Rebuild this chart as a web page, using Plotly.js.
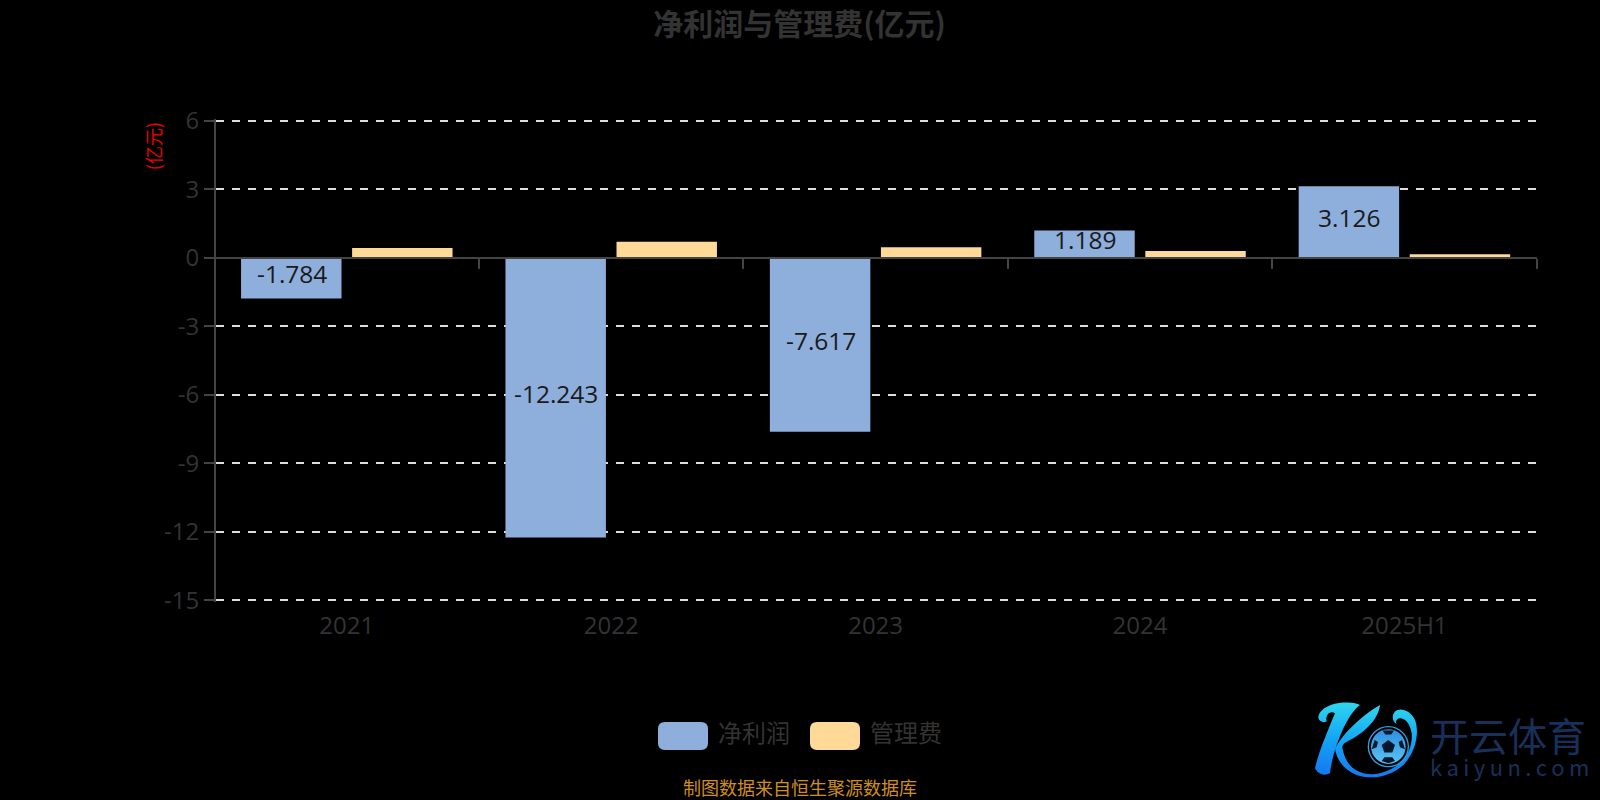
<!DOCTYPE html>
<html><head><meta charset="utf-8">
<script src="https://cdn.plot.ly/plotly-3.0.1.min.js"></script>
<style>html,body{margin:0;padding:0;background:#000;overflow:hidden}</style></head>
<body><div id="chart" style="width:1600px;height:800px"></div>
<script>
const categories = ['2021','2022','2023','2024','2025H1'];
const netProfit = [-1.784,-12.243,-7.617,1.189,3.126];
const adminFee = [0.42,0.70,0.46,0.29,0.145];
const netProfitLabels = ['-1.784','-12.243','-7.617','1.189','3.126'];
const seriesNames = ['净利润','管理费'];
const yTicks = [6,3,0,-3,-6,-9,-12,-15];
const W=1600,H=800,L=216,R=1537,T=118.8,B=602;
const px=x=>(x-L)/(R-L), py=y=>(B-y)/(B-T);
const latin='"Open Sans","Noto Sans CJK SC",sans-serif', cjk='"Noto Sans CJK SC",sans-serif';
function rr(x0,y0,x1,y1,r){
  const a=px(x0),b=px(x1),c=py(y0),d=py(y1),rx=r/(R-L),ry=r/(B-T);
  return `M${a+rx},${c} L${b-rx},${c} Q${b},${c} ${b},${c-ry} L${b},${d+ry} Q${b},${d} ${b-rx},${d} L${a+rx},${d} Q${a},${d} ${a},${d+ry} L${a},${c-ry} Q${a},${c} ${a+rx},${c} Z`;
}
const logo='data:image/svg+xml;utf8,'+encodeURIComponent(`<svg xmlns="http://www.w3.org/2000/svg" width="300" height="110" viewBox="0 0 900 330">
<defs><linearGradient id="g" x1="0" y1="0" x2="0" y2="1"><stop offset="0" stop-color="#2fd6ee"/><stop offset="0.5" stop-color="#14a5f5"/><stop offset="1" stop-color="#1478f0"/></linearGradient>
<linearGradient id="b" x1="0" y1="0" x2="0" y2="1"><stop offset="0" stop-color="#2c8fe0"/><stop offset="1" stop-color="#5cc4f5"/></linearGradient></defs>
<path fill="url(#g)" d="M55 80 C60 55 95 40 130 38 C150 36 170 38 180 45 C160 60 145 85 130 115 C110 160 95 205 90 250 C75 258 55 255 45 235 C55 190 80 130 105 70 C90 60 75 75 80 95 C65 100 55 92 55 80Z"/>
<path fill="url(#g)" d="M240 45 C235 90 190 130 150 150 C130 160 125 165 128 178 C140 240 190 262 240 250 C300 235 340 190 335 130 C330 100 315 85 300 85 C290 85 285 95 290 103 C280 98 272 80 285 65 C300 52 330 60 345 90 C360 130 345 190 310 225 C270 262 210 270 170 255 C130 240 108 205 105 175 C130 130 180 80 240 45Z"/>
<circle cx="265" cy="170" r="60" fill="#000" stroke="#2aa0e8" stroke-width="4"/>
<circle cx="265" cy="170" r="52" fill="url(#b)"/>
<path fill="#04182c" d="M265 150 L285 165 L277 188 L253 188 L245 165Z M248 122 L282 122 L274 134 L256 134Z M306 150 L315 178 L300 172 L296 156Z M224 150 L234 156 L230 172 L215 178Z M245 213 L253 202 L277 202 L285 213 L265 220Z"/>
</svg>`);
const bars=(name,y,color)=>({type:'bar',name,x:categories,y,
  marker:{color,line:{width:0}},showlegend:false,hoverinfo:'x+y',textposition:'none'});
const data=[bars(seriesNames[0],netProfit,'#8eaedb'),bars(seriesNames[1],adminFee,'#ffd998')];
const note=(text,x,y,size,color,extra)=>Object.assign({text,xref:'paper',yref:'paper',x:px(x),y:py(y),xanchor:'center',yanchor:'middle',
  showarrow:false,font:{family:cjk,size,color}},extra);
// value labels: centred on their bars through the data axes
const barLabels=netProfit.map((v,i)=>({text:netProfitLabels[i],xref:'x',yref:'y',x:i,y:v/2,xshift:-55,yshift:4.5,
  xanchor:'center',yanchor:'middle',showarrow:false,font:{family:latin,size:24.5,color:'#1a1a1a'}}));
const layout={
 width:W,height:H,paper_bgcolor:'#000',plot_bgcolor:'#000',
 margin:{l:L,r:W-R,t:T,b:H-B,pad:0,autoexpand:false},
 title:{text:'<b>净利润与管理费(亿元)</b>',x:799.5/W,xanchor:'center',xref:'container',y:1-24/H,yanchor:'middle',font:{family:cjk,size:30,color:'#333'}},
 barmode:'group',bargap:0.16,bargroupgap:0.0955,showlegend:false,
 xaxis:{type:'category',categoryorder:'array',categoryarray:categories,range:[-0.4947,4.5014],anchor:'free',position:15.07/21.14,
   showline:true,linecolor:'#444',linewidth:2,ticks:'outside',tickson:'boundaries',ticklen:10,tickwidth:2,tickcolor:'#444',
   showgrid:false,zeroline:false,ticklabelstandoff:347,tickfont:{family:latin,size:24,color:'#333'}},
 yaxis:{range:[-15.07,6.07],tickmode:'array',tickvals:yTicks,ticktext:yTicks.map(String),showline:true,linecolor:'#444',linewidth:2,
   ticks:'outside',ticklen:10,tickwidth:2,tickcolor:'#444',showgrid:true,gridcolor:'#ddd',gridwidth:2,griddash:'8px,8px',
   zeroline:false,tickfont:{family:latin,size:24,color:'#333'}},
 annotations:barLabels.concat([
  note('(亿元)',153,146,18,'#f00000',{textangle:-90}),
  note(seriesNames[0],754,732,24,'#333'),
  note(seriesNames[1],906,732,24,'#333'),
  note('制图数据来自恒生聚源数据库',800,787,18,'#d08f1c'),
  note('开云体育',1508,734,39,'#18305a'),
  note('k\u2009a\u2009i\u2009y\u2009u\u2009n\u2009.\u2009c\u2009o\u2009m',1509,766,22,'#18305a')
 ]),
 shapes:[
  {type:'path',xref:'paper',yref:'paper',path:rr(658,722,708,750,7),fillcolor:'#8eaedb',line:{width:0}},
  {type:'path',xref:'paper',yref:'paper',path:rr(810,722,860,750,7),fillcolor:'#ffd998',line:{width:0}}
 ],
 images:[{source:logo,xref:'paper',yref:'paper',x:px(1300),y:py(690),sizex:300/(R-L),sizey:110/(B-T),xanchor:'left',yanchor:'top',sizing:'stretch',layer:'above'}]
};
Plotly.newPlot('chart',data,layout,{displayModeBar:false,staticPlot:true});
</script></body></html>
